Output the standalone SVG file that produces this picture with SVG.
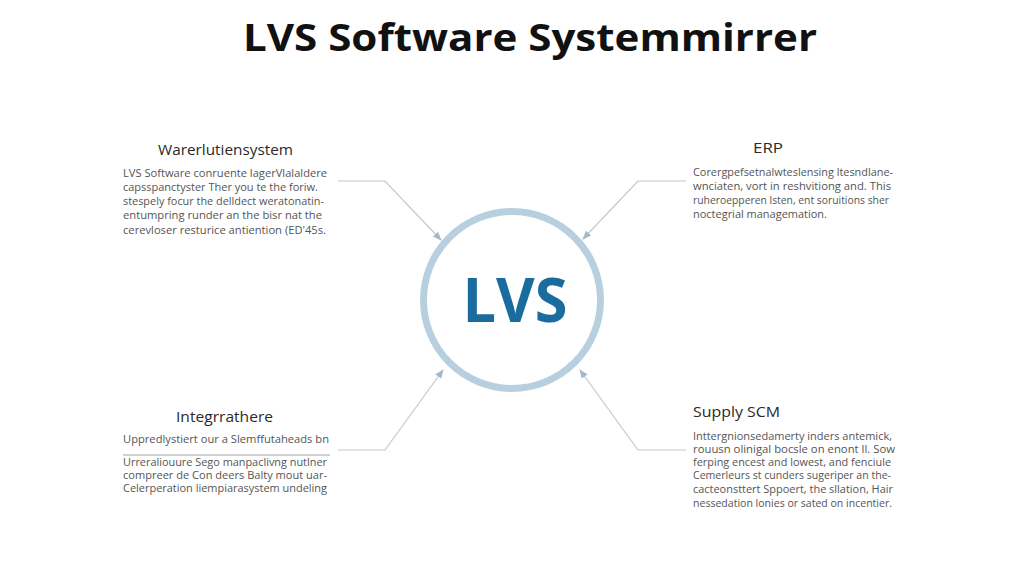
<svg xmlns="http://www.w3.org/2000/svg" width="1024" height="585" viewBox="0 0 1024 585">
  <defs>
    <marker id="arr" viewBox="0 0 10 10" refX="9" refY="5" markerWidth="9" markerHeight="9" markerUnits="userSpaceOnUse" orient="auto">
      <path d="M0,1 L10,5 L0,9 Z" fill="#a3b8c8"/>
    </marker>
  </defs>
  <style>
    .title { font-family: "Open Sans", "Liberation Sans", sans-serif; font-weight: 700; font-size: 38px; fill: #111; }
    .head { font-family: "Open Sans", "Liberation Sans", sans-serif; font-size: 15px; fill: #2a2a2a; }
    .body { font-family: "Open Sans", "Liberation Sans", sans-serif; font-size: 11.5px; fill: #555; }
    .conn { fill: none; stroke: #bccbd6; stroke-width: 1.2; marker-end: url(#arr); }
  </style>
  <rect width="1024" height="585" fill="#ffffff"/>
  <text class="title" x="243" y="51" textLength="574" lengthAdjust="spacingAndGlyphs">LVS Software Systemmirrer</text>

  <g id="connectors">
    <path class="conn" d="M338,181 H385 L441,240"/>
    <path class="conn" d="M686,181 H638 L583,239"/>
    <path class="conn" d="M338,450 H385 L443,370"/>
    <path class="conn" d="M686,450 H638 L580,370"/>
  </g>

  <g id="lvs">
    <circle cx="512" cy="300" r="88.5" fill="#ffffff" stroke="#b7cfdf" stroke-width="7"/>
    <text x="515" y="322" text-anchor="middle" font-family="'Open Sans', 'Liberation Sans', sans-serif" font-weight="700" font-size="60" fill="#1a6c9f" textLength="105" lengthAdjust="spacingAndGlyphs">LVS</text>
  </g>

  <g id="warehouse">
    <text class="head" x="158" y="155" textLength="135" lengthAdjust="spacingAndGlyphs">Warerlutiensystem</text>
    <text class="body" x="123" y="177" textLength="204" lengthAdjust="spacingAndGlyphs">LVS Software conruente lagerVlalaldere</text>
    <text class="body" x="123" y="191" textLength="195" lengthAdjust="spacingAndGlyphs">capsspanctyster Ther you te the foriw.</text>
    <text class="body" x="123" y="205" textLength="201" lengthAdjust="spacingAndGlyphs">stespely focur the delldect weratonatin-</text>
    <text class="body" x="123" y="219" textLength="199" lengthAdjust="spacingAndGlyphs">entumpring runder an the bisr nat the</text>
    <text class="body" x="123" y="234" textLength="203" lengthAdjust="spacingAndGlyphs">cerevloser resturice antiention (ED'45s.</text>
  </g>

  <g id="erp">
    <text class="head" x="753" y="153" textLength="30" lengthAdjust="spacingAndGlyphs">ERP</text>
    <text class="body" x="693" y="176" textLength="200" lengthAdjust="spacingAndGlyphs">Corergpefsetnalwteslensing ltesndlane-</text>
    <text class="body" x="693" y="190" textLength="198" lengthAdjust="spacingAndGlyphs">wnciaten, vort in reshvitiong and. This</text>
    <text class="body" x="693" y="204" textLength="196" lengthAdjust="spacingAndGlyphs">ruheroepperen lsten, ent soruitions sher</text>
    <text class="body" x="693" y="218" textLength="134" lengthAdjust="spacingAndGlyphs">noctegrial managemation.</text>
  </g>

  <g id="integration">
    <text class="head" x="176" y="422" textLength="97" lengthAdjust="spacingAndGlyphs">Integrrathere</text>
    <text class="body" x="123" y="443" textLength="206" lengthAdjust="spacingAndGlyphs">Uppredlystiert our a Slemffutaheads bn</text>
    <line x1="123" y1="455" x2="330" y2="455" stroke="#8a8a8a" stroke-width="0.8"/>
    <text class="body" x="123" y="466" textLength="204" lengthAdjust="spacingAndGlyphs">Urreraliouure Sego manpaclivng nutlner</text>
    <text class="body" x="123" y="479" textLength="204" lengthAdjust="spacingAndGlyphs">compreer de Con deers Balty mout uar-</text>
    <text class="body" x="123" y="492" textLength="204" lengthAdjust="spacingAndGlyphs">Celerperation liempiarasystem undeling</text>
  </g>

  <g id="scm">
    <text class="head" x="693" y="417" textLength="87" lengthAdjust="spacingAndGlyphs">Supply SCM</text>
    <text class="body" x="693" y="440" textLength="199" lengthAdjust="spacingAndGlyphs">Inttergnionsedamerty inders antemick,</text>
    <text class="body" x="693" y="453" textLength="202" lengthAdjust="spacingAndGlyphs">rouusn olinigal bocsle on enont ll. Sow</text>
    <text class="body" x="693" y="466" textLength="198" lengthAdjust="spacingAndGlyphs">ferping encest and lowest, and fenciule</text>
    <text class="body" x="693" y="479" textLength="198" lengthAdjust="spacingAndGlyphs">Cemerleurs st cunders sugeriper an the-</text>
    <text class="body" x="693" y="493" textLength="200" lengthAdjust="spacingAndGlyphs">cacteonsttert Sppoert, the sllation, Hair</text>
    <text class="body" x="693" y="507" textLength="199" lengthAdjust="spacingAndGlyphs">nessedation lonies or sated on incentier.</text>
  </g>
</svg>
